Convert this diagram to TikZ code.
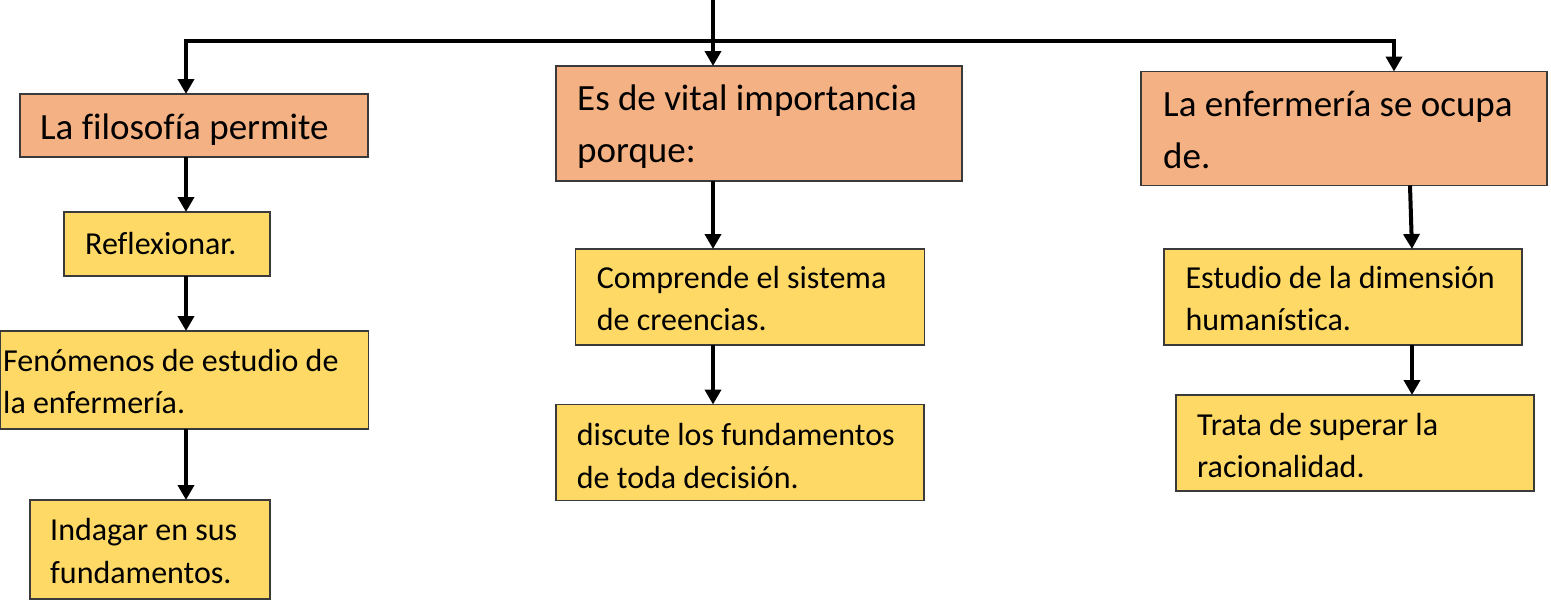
\documentclass[tikz,border=0pt]{standalone}
\usepackage{fontspec}
\setmainfont{Carlito}[Ligatures=NoCommon]
\usetikzlibrary{arrows.meta}
\definecolor{orangebox}{HTML}{F4B183}
\definecolor{yellowbox}{HTML}{FFD966}
\definecolor{boxline}{HTML}{3A3A3A}
\tikzset{
  obox/.style={draw=boxline, line width=1.3pt, fill=orangebox, rectangle, inner sep=0pt, outer sep=0pt, anchor=north west},
  ybox/.style={draw=boxline, line width=1.3pt, fill=yellowbox, rectangle, inner sep=0pt, outer sep=0pt, anchor=north west},
  boxtext/.style={anchor=base west, inner sep=0pt, text width=440pt, align=left,
     execute at begin node={\spaceskip=0.226em\relax\xspaceskip=0.226em\relax}},
  otext/.style={boxtext, font=\fontsize{37}{52}\selectfont},
  ytext/.style={boxtext, font=\fontsize{32}{42.5}\selectfont},
  conn/.style={line width=4pt, -{Triangle[length=15pt,width=16pt]}},
}
\begin{document}
\begin{tikzpicture}[x=1pt,y=-1pt]
\useasboundingbox (0,0) rectangle (1551,603);
% boxes
\node[obox, minimum width=348pt, minimum height=63pt] (A) at (20,94) {};
\node[obox, minimum width=406pt, minimum height=115pt] (B) at (556,66) {};
\node[obox, minimum width=406pt, minimum height=114pt] (C) at (1141,71.5) {};
\node[ybox, minimum width=206pt, minimum height=64pt] (D) at (64,212) {};
\node[ybox, minimum width=368pt, minimum height=98pt] (E) at (0.7,331) {};
\node[ybox, minimum width=240pt, minimum height=99pt] (F) at (30,500) {};
\node[ybox, minimum width=349pt, minimum height=96pt] (G) at (575.5,249) {};
\node[ybox, minimum width=368pt, minimum height=96pt] (H) at (556,404.5) {};
\node[ybox, minimum width=358pt, minimum height=96pt] (I) at (1164,249) {};
\node[ybox, minimum width=358pt, minimum height=96pt] (J) at (1176,395) {};
% texts
\node[otext] (tA) at (40,139) {La filosofía permite};
\node[otext] (tB) at (577,110) {Es de vital importancia\\porque:};
\node[otext] (tC) at (1163,116.5) {La enfermería se ocupa\\de.};
\node[ytext] (tD) at (85,254) {Reflexionar.};
\node[ytext] (tE) at (3,371) {Fenómenos de estudio de\\la enfermería.};
\node[ytext] (tF) at (50,540.5) {Indagar en sus\\fundamentos.};
\node[ytext] (tG) at (596.7,288.3) {Comprende el sistema\\de creencias.};
\node[ytext] (tH) at (576.7,445.7) {discute los fundamentos\\de toda decisión.};
\node[ytext] (tI) at (1185.3,288.3) {Estudio de la dimensión\\humanística.};
\node[ytext] (tJ) at (1197,435) {Trata de superar la\\racionalidad.};
% connectors
\coordinate (top) at (713,0);
\coordinate (busL) at (186,41);
\coordinate (busR) at (1394,41);
\coordinate (xR2) at (1410,0);
\coordinate (xR3) at (1412,0);
\draw[conn] (top) -- (top |- B.north);
\draw[conn] (busR) -- (busL) -- (busL |- A.north);
\draw[conn] (busL) -- (busR) -- (busR |- C.north);
\draw[conn] (busL |- A.south) -- (busL |- D.north);
\draw[conn] (busL |- D.south) -- (busL |- E.north);
\draw[conn] (busL |- E.south) -- (busL |- F.north);
\draw[conn] (top |- B.south) -- (top |- G.north);
\draw[conn] (top |- G.south) -- (top |- H.north);
\draw[conn] (xR2 |- C.south) -- (xR3 |- I.north);
\draw[conn] (xR3 |- I.south) -- (xR3 |- J.north);
\end{tikzpicture}
\end{document}
